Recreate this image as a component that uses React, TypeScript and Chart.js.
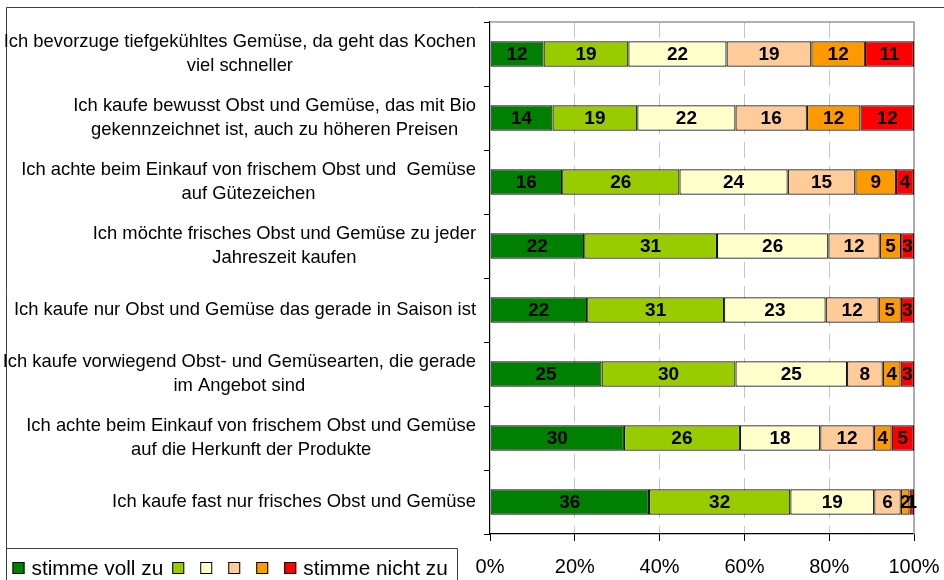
import React, { useEffect, useRef } from "react";
import { Chart, registerables } from "chart.js";

Chart.register(...registerables);

const FONT = "'Liberation Sans', Arial, sans-serif";

const categories: string[][] = [
  ["Ich bevorzuge tiefgekühltes Gemüse, da geht das Kochen", "viel schneller"],
  ["Ich kaufe bewusst Obst und Gemüse, das mit Bio", "gekennzeichnet ist, auch zu höheren Preisen"],
  ["Ich achte beim Einkauf von frischem Obst und  Gemüse", "auf Gütezeichen"],
  ["Ich möchte frisches Obst und Gemüse zu jeder", "Jahreszeit kaufen"],
  ["Ich kaufe nur Obst und Gemüse das gerade in Saison ist"],
  ["Ich kaufe vorwiegend Obst- und Gemüsearten, die gerade", "im Angebot sind"],
  ["Ich achte beim Einkauf von frischem Obst und Gemüse", "auf die Herkunft der Produkte"],
  ["Ich kaufe fast nur frisches Obst und Gemüse"],
];

const legendLabels = ["stimme voll zu", "", "", "", "", "stimme nicht zu"];
const seriesColors = ["#008000", "#99CC00", "#FFFFCC", "#FFCC99", "#FF9900", "#FF0000"];

const stimmeVollZu = [12, 14, 16, 22, 22, 25, 30, 36];
const stufe2 = [19, 19, 26, 31, 31, 30, 26, 32];
const stufe3 = [22, 22, 24, 26, 23, 25, 18, 19];
const stufe4 = [19, 16, 15, 12, 12, 8, 12, 6];
const stufe5 = [12, 12, 9, 5, 5, 4, 4, 2];
const stimmeNichtZu = [11, 12, 4, 3, 3, 3, 5, 1];

const series = [stimmeVollZu, stufe2, stufe3, stufe4, stufe5, stimmeNichtZu];

const xTickStep = 20;

export default function App() {
  const ref = useRef<HTMLCanvasElement | null>(null);

  useEffect(() => {
    if (!ref.current) return;
    const totals = categories.map((_, i) => series.reduce((s, arr) => s + arr[i], 0));
    const datasets = series.map((arr, d) => ({
      label: legendLabels[d],
      data: arr.map((v, i) => (v / totals[i]) * 100),
      backgroundColor: seriesColors[d],
      borderColor: "#111",
      borderWidth: 1.2,
      borderSkipped: false as const,
      barPercentage: 0.4,
      categoryPercentage: 1,
    }));

    const framePlugin = {
      id: "frameAndLabels",
      beforeDraw(chart: any) {
        const ctx = chart.ctx as CanvasRenderingContext2D;
        ctx.save();
        ctx.fillStyle = "#fff";
        ctx.fillRect(0, 0, chart.width, chart.height);
        ctx.strokeStyle = "#404040";
        ctx.lineWidth = 1;
        ctx.beginPath();
        ctx.moveTo(6.5, chart.height);
        ctx.lineTo(6.5, 7.5);
        ctx.lineTo(chart.width, 7.5);
        ctx.stroke();
        ctx.restore();
      },
      beforeDatasetsDraw(chart: any) {
        const ctx = chart.ctx as CanvasRenderingContext2D;
        const a = chart.chartArea;
        ctx.save();
        ctx.strokeStyle = "#999";
        ctx.lineWidth = 1.6;
        ctx.beginPath();
        ctx.moveTo(a.left, a.top);
        ctx.lineTo(a.right, a.top);
        ctx.lineTo(a.right, a.bottom);
        ctx.stroke();
        ctx.restore();
      },
      afterDatasetsDraw(chart: any) {
        const ctx = chart.ctx as CanvasRenderingContext2D;
        ctx.save();
        ctx.font = `bold 19px ${FONT}`;
        ctx.fillStyle = "#000";
        ctx.textAlign = "center";
        ctx.textBaseline = "middle";
        series.forEach((arr, d) => {
          const meta = chart.getDatasetMeta(d);
          meta.data.forEach((el: any, i: number) => {
            const p = el.getCenterPoint();
            ctx.fillText(String(arr[i]), p.x, p.y + 1);
          });
        });
        ctx.restore();
      },
      afterDraw(chart: any) {
        const ctx = chart.ctx as CanvasRenderingContext2D;
        const yScale = chart.scales.y;
        ctx.save();
        // category labels: block right-aligned, lines centered
        ctx.font = `18.4px ${FONT}`;
        ctx.fillStyle = "#000";
        ctx.textAlign = "center";
        ctx.textBaseline = "middle";
        const rightEdge = chart.chartArea.left - 14;
        const lh = 23.5;
        categories.forEach((lines, i) => {
          const y = yScale.getPixelForValue(i);
          const w = Math.max(...lines.map((l) => ctx.measureText(l).width));
          const cx = rightEdge - w / 2;
          lines.forEach((l, j) => {
            ctx.fillText(l, cx, y + (j - (lines.length - 1) / 2) * lh);
          });
        });
        // legend box
        ctx.strokeStyle = "#404040";
        ctx.lineWidth = 1;
        ctx.beginPath();
        ctx.moveTo(6.5, 548.5);
        ctx.lineTo(457.5, 548.5);
        ctx.lineTo(457.5, chart.height);
        ctx.stroke();
        ctx.font = `20.8px ${FONT}`;
        ctx.textAlign = "left";
        let x = 12.5;
        const my = 562;
        legendLabels.forEach((lab, d) => {
          ctx.fillStyle = seriesColors[d];
          ctx.fillRect(x, my, 12, 12);
          ctx.strokeStyle = "#000";
          ctx.strokeRect(x + 0.5, my + 0.5, 11, 11);
          x += 12;
          if (lab) {
            x += 7;
            ctx.fillStyle = "#000";
            ctx.fillText(lab, x, my + 7);
            x += ctx.measureText(lab).width + 9;
          } else {
            x += 16;
          }
        });
        ctx.restore();
      },
    };

    const chart = new Chart(ref.current, {
      type: "bar",
      data: { labels: categories, datasets },
      options: {
        indexAxis: "y",
        animation: false,
        responsive: true,
        maintainAspectRatio: false,
        layout: { padding: { top: 22, right: 30, bottom: 0, left: 0 } },
        font: { family: FONT },
        plugins: {
          legend: { display: false },
          tooltip: { enabled: false },
        },
        scales: {
          x: {
            stacked: true,
            min: 0,
            max: 100,
            ticks: {
              stepSize: xTickStep,
              callback: (v: any) => `${v}%`,
              color: "#000",
              font: { size: 20, family: FONT },
              padding: 14,
              maxRotation: 0,
            },
            grid: {
              color: (c: any) =>
                c.tick && (c.tick.value === 0 || c.tick.value === 100) ? "rgba(0,0,0,0)" : "#c4c4c4",
              lineWidth: 1,
              tickColor: "#000",
              tickLength: 7,
            },
            border: { display: true, color: "#000", width: 1.2, dash: [16, 8] },
            afterFit: (s: any) => {
              s.height = 46;
              s.paddingRight = 0;
              s.paddingLeft = 0;
            },
          },
          y: {
            stacked: true,
            ticks: { color: "rgba(0,0,0,0)", font: { size: 17, family: FONT } },
            grid: {
              drawOnChartArea: false,
              tickColor: "#000",
              tickLength: 6,
              offset: true,
            },
            border: { display: true, color: "#000", width: 1.2 },
            afterFit: (s: any) => {
              s.width = 490;
              s.paddingTop = 0;
              s.paddingBottom = 0;
            },
          },
        },
      },
      plugins: [framePlugin],
    });
    return () => chart.destroy();
  }, []);

  return (
    <div style={{ position: "fixed", left: 0, top: 0, width: 944, height: 580, background: "#fff" }}>
      <canvas ref={ref} />
    </div>
  );
}
